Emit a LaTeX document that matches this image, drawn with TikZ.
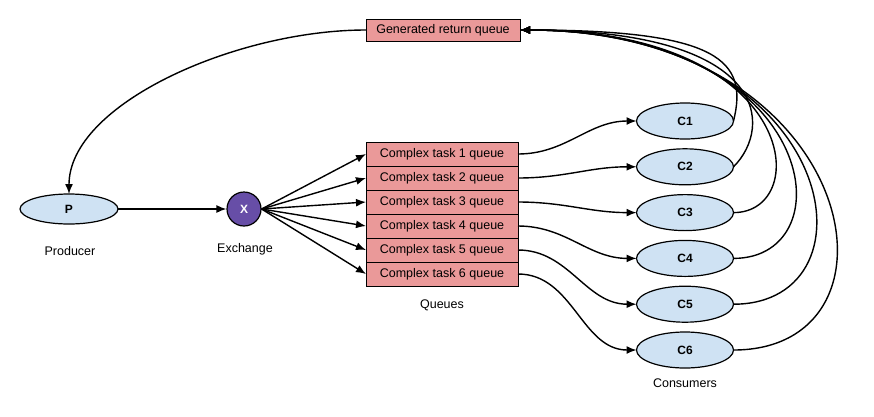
\documentclass[tikz,border=0pt]{standalone}
\usepackage{fontspec}
\setmainfont{Liberation Sans}
\usepackage{xcolor}
\usepackage{tikz}
\usetikzlibrary{arrows, arrows.meta, positioning, shapes}
\definecolor{queuered}{HTML}{EA9999}
\definecolor{clientblue}{HTML}{CFE2F3}
\definecolor{exchpurple}{HTML}{674EA7}
\tikzstyle{queue} = [draw, line width=1pt, fill=queuered, outer sep=0pt, minimum width=152pt, minimum height=24pt, inner sep=0pt, font=\fontsize{12.5}{14}\selectfont]
\tikzstyle{client} = [draw, line width=1.2pt, ellipse, fill=clientblue, outer sep=0pt, minimum width=97pt, minimum height=36pt, inner sep=0pt, font=\fontsize{12}{14}\selectfont\bfseries]
\tikzstyle{caption} = [font=\fontsize{12.5}{14}\selectfont]
\tikzstyle{arrow} = [->, >={Latex[length=10pt, width=8pt]}, line width=1.4pt]

\begin{document}
\begin{tikzpicture}[x=1pt, y=-1pt]

\useasboundingbox (0, 0) rectangle (874, 416);

% Producer and exchange
\node [client, minimum width=98pt, minimum height=30pt] (p) at (69, 209) {P};
\node [caption] (producer) at (70, 251) {Producer};
\node [draw, circle, line width=1.2pt, fill=exchpurple, text=white, minimum size=34pt, inner sep=0pt, font=\fontsize{12}{14}\selectfont\bfseries] (x) at (244, 209) {X};
\node [caption] (exchange) at (245, 249) {Exchange};

% Queues
\node [queue, minimum width=154pt, minimum height=22pt] (ret) at (443, 30) {Generated return queue};
\node [queue] (q1) at (442, 154) {Complex task 1 queue};
\node [queue, below=0pt of q1] (q2) {Complex task 2 queue};
\node [queue, below=0pt of q2] (q3) {Complex task 3 queue};
\node [queue, below=0pt of q3] (q4) {Complex task 4 queue};
\node [queue, below=0pt of q4] (q5) {Complex task 5 queue};
\node [queue, below=0pt of q5] (q6) {Complex task 6 queue};
\node [caption] (queues) at (442, 305) {Queues};

% Consumers
\node [client] (c1) at (685, 121) {C1};
\node [client, below=9.8pt of c1] (c2) {C2};
\node [client, below=9.8pt of c2] (c3) {C3};
\node [client, below=9.8pt of c3] (c4) {C4};
\node [client, below=9.8pt of c4] (c5) {C5};
\node [client, below=9.8pt of c5] (c6) {C6};
\node [caption] (consumers) at (685, 383) {Consumers};

% Publishing
\draw [arrow] (p) -- (x);
\foreach \q in {q1, q2, q3, q4, q5, q6}
  \draw [arrow] (x.east) -- (\q.west);

% Consuming
\foreach \i in {1, ..., 6}
  \draw [arrow] (q\i.east) to[out=0, in=180] (c\i.west);

% Replies
\draw [arrow] (c1.east) .. controls +(15, -60) and +(200, 0) .. (ret.east);
\draw [arrow] (c2.east) .. controls +(40, -40) and +(250, 0) .. (ret.east);
\draw [arrow] (c3.east) .. controls +(80, 0) and +(280, 0) .. (ret.east);
\draw [arrow] (c4.east) .. controls +(115, 0) and +(300, 0) .. (ret.east);
\draw [arrow] (c5.east) .. controls +(150, 0) and +(320, 0) .. (ret.east);
\draw [arrow] (c6.east) .. controls +(185, 0) and +(340, 0) .. (ret.east);
\draw [arrow] (ret.west) .. controls +(-130, 0) and +(0, -90) .. (p.north);

\end{tikzpicture}
\end{document}
